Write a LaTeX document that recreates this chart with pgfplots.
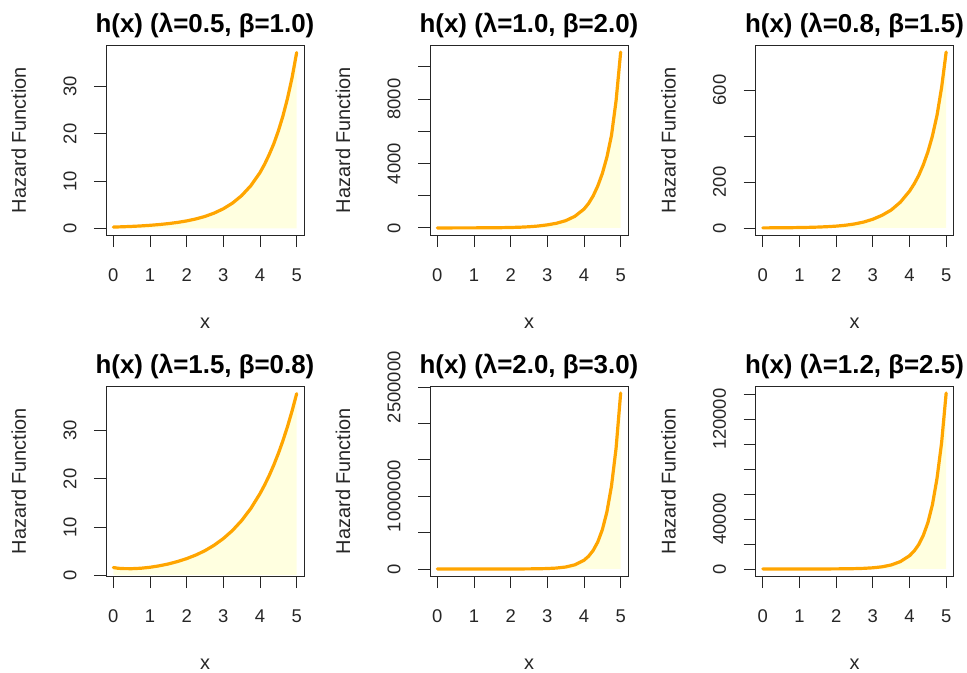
\documentclass[border=0pt]{standalone}
\usepackage{fontspec}
\setmainfont{Liberation Sans}
\usepackage{graphicx}
\usepackage{pgfplots}
\pgfplotsset{compat=1.18}
\usepackage{pgfplotstable}
\definecolor{curve}{HTML}{FFA500}
\definecolor{fillc}{HTML}{FFFFE0}
\newcommand{\rl}[1]{\rotatebox{90}{#1}}

\pgfplotstableread{
x y
0 0.27
0.25 0.33
0.5 0.41
0.75 0.51
1 0.64
1.25 0.80
1.5 1.0
1.75 1.25
2 1.57
2.25 1.99
2.5 2.52
2.75 3.23
3 4.14
3.25 5.34
3.5 6.93
3.75 9.03
4 11.8
4.125 13.56
4.25 15.6
4.375 17.87
4.5 20.6
4.625 23.76
4.75 27.5
4.875 31.9
5 37.2
}\tA

\pgfplotstableread{
x y
0 0.5
0.25 0.8
0.5 1.4
0.75 2.2
1 3.7
1.25 6
1.5 10
1.75 16
2 27
2.25 44
2.5 72
2.75 118
3 190
3.25 290
3.5 450
3.75 720
4 1170
4.125 1520
4.25 1990
4.375 2600
4.5 3380
4.625 4400
4.75 5750
4.875 7900
5 10920
}\tB

\pgfplotstableread{
x y
0 0.4
0.25 0.55
0.5 0.8
0.75 1.2
1 1.8
1.25 2.6
1.5 3.8
1.75 5.5
2 8
2.25 11.8
2.5 17.4
2.75 25.7
3 38
3.25 55
3.5 78
3.75 112
4 160
4.125 191
4.25 228
4.375 274
4.5 330
4.625 400
4.75 490
4.875 610
5 765
}\tC

\pgfplotstableread{
x y
0 1.6
0.125 1.45
0.25 1.38
0.5 1.36
0.75 1.45
1 1.65
1.25 1.95
1.5 2.34
1.75 2.84
2 3.45
2.25 4.19
2.5 5.10
2.75 6.23
3 7.61
3.25 9.29
3.5 11.35
3.75 13.86
4 16.93
4.125 18.71
4.25 20.67
4.375 22.85
4.5 25.25
4.625 27.91
4.75 30.84
4.875 34.09
5 37.67
}\tD

\pgfplotstableread{
x y
0 0.74
0.25 1.57
0.5 3.3
0.75 7.0
1 14.9
1.25 31.4
1.5 66.3
1.75 140
2 299
2.25 630
2.5 1330
2.75 2810
3 5970
3.25 12600
3.5 26900
3.75 56900
4 120400
4.125 175000
4.25 255000
4.375 371000
4.5 540000
4.625 785000
4.75 1142000
4.875 1661000
5 2420000
}\tE

\pgfplotstableread{
x y
0 0.5
0.25 0.95
0.5 1.8
0.75 3.4
1 6.3
1.25 12
1.5 22
1.75 42
2 77
2.25 145
2.5 270
2.75 500
3 930
3.25 1720
3.5 3200
3.75 5900
4 10600
4.125 14300
4.25 19500
4.375 26800
4.5 37000
4.625 51500
4.75 72500
4.875 101000
5 141000
}\tF

\pgfplotsset{
  rstyle/.style={
    scale only axis, width=198bp, height=190bp,
    xmin=-0.2, xmax=5.2,
    no markers,
    axis line style={black!85, line width=0.9bp},
    xtick={0,1,2,3,4,5},
    tick align=outside,
    xtick pos=left, ytick pos=left,
    major tick length=12bp,
    tick style={black!85, line width=0.9bp},
    scaled y ticks=false,
    /pgf/number format/assume math mode=true,
    ticklabel style={font=\fontsize{18.5}{20}\selectfont, text=black!85},
    xticklabel style={anchor=base, inner sep=0pt, yshift=-34.7bp},
    yticklabel style={anchor=east, inner sep=0pt, xshift=-17.3bp},
    every axis title/.style={at={(axis description cs:0.5,1)}, anchor=base, yshift=12.5bp, inner sep=0pt, font=\bfseries\fontsize{26}{28}\selectfont},
    every axis x label/.style={at={(axis description cs:0.5,0)}, anchor=base, yshift=-93bp, inner sep=0pt, font=\fontsize{20}{22}\selectfont, text=black!85},
    every axis y label/.style={at={(axis description cs:0,0.5)}, xshift=-80bp, rotate=90, anchor=base, inner sep=0pt, font=\fontsize{20}{22}\selectfont, text=black!85},
    xlabel={x}, ylabel={Hazard Function},
  },
  fillst/.style={draw=none, fill=fillc},
  linest/.style={draw=curve, line width=3.2bp, line cap=round, line join=round},
}

\begin{document}
\begin{tikzpicture}
\path[use as bounding box] (0,0) rectangle (967bp,-673bp);

\begin{axis}[rstyle, at={(106bp,-235bp)}, anchor=south west,
  ymin=-1.41, ymax=38.8, ytick={0,10,20,30}, yticklabels={\rl{0},\rl{10},\rl{20},\rl{30}},
  title={h(x) (λ=0.5, β=1.0)}]
\addplot[fillst] table[x=x,y=y]{\tA} \closedcycle;
\addplot[linest] table[x=x,y=y]{\tA};
\end{axis}

\begin{axis}[rstyle, at={(430bp,-235bp)}, anchor=south west,
  ymin=-440, ymax=11360, ytick={0,2000,4000,6000,8000,10000}, yticklabels={\rl{0},,\rl{4000},,\rl{8000},},
  title={h(x) (λ=1.0, β=2.0)}]
\addplot[fillst] table[x=x,y=y]{\tB} \closedcycle;
\addplot[linest] table[x=x,y=y]{\tB};
\end{axis}

\begin{axis}[rstyle, at={(755.5bp,-235bp)}, anchor=south west,
  ymin=-30.6, ymax=795.6, ytick={0,200,400,600}, yticklabels={\rl{0},\rl{200},,\rl{600}},
  title={h(x) (λ=0.8, β=1.5)}]
\addplot[fillst] table[x=x,y=y]{\tC} \closedcycle;
\addplot[linest] table[x=x,y=y]{\tC};
\end{axis}

\begin{axis}[rstyle, at={(106bp,-576bp)}, anchor=south west,
  ymin=-0.16, ymax=39.26, ytick={0,10,20,30}, yticklabels={\rl{0},\rl{10},\rl{20},\rl{30}},
  title={h(x) (λ=1.5, β=0.8)}]
\addplot[fillst] table[x=x,y=y]{\tD} \closedcycle;
\addplot[linest] table[x=x,y=y]{\tD};
\end{axis}

\begin{axis}[rstyle, at={(430bp,-576bp)}, anchor=south west,
  ymin=-96800, ymax=2516800, ytick={0,500000,1000000,1500000,2000000,2500000}, yticklabels={\rl{0},,\rl{1000000},,,\rl{2500000}},
  title={h(x) (λ=2.0, β=3.0)}]
\addplot[fillst] table[x=x,y=y]{\tE} \closedcycle;
\addplot[linest] table[x=x,y=y]{\tE};
\end{axis}

\begin{axis}[rstyle, at={(755.5bp,-576bp)}, anchor=south west,
  ymin=-5640, ymax=146640, ytick={0,20000,40000,60000,80000,100000,120000,140000}, yticklabels={\rl{0},,\rl{40000},,,,\rl{120000},},
  title={h(x) (λ=1.2, β=2.5)}]
\addplot[fillst] table[x=x,y=y]{\tF} \closedcycle;
\addplot[linest] table[x=x,y=y]{\tF};
\end{axis}

\end{tikzpicture}
\end{document}
